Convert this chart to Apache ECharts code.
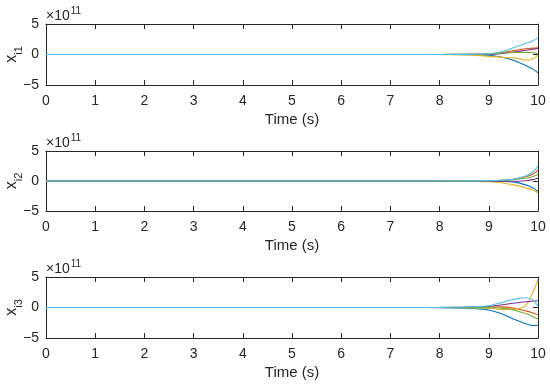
<!DOCTYPE html>
<html>
<head>
<meta charset="utf-8">
<script src="https://cdn.jsdelivr.net/npm/echarts@6/dist/echarts.min.js"></script>
<style>
html,body{margin:0;padding:0;background:#fff;}
#c{width:550px;height:386px;}
</style>
</head>
<body>
<div id="c"></div>
<script>
// time samples (s)
const time = [0, 7.5, 8, 8.5, 8.75, 9, 9.25, 9.5, 9.75, 9.9, 10];
// values in units of 1e11
const x1Blue      = [0, 0, 0.01, -0.02, -0.05, -0.12, -0.4, -0.95, -1.8, -2.4, -3.0];
const x1Red       = [0, 0, 0.01, 0.02, 0.04, 0.08, 0.3, 0.65, 0.95, 1.05, 1.1];
const x1Yellow    = [0, 0, -0.01, -0.05, -0.15, -0.3, -0.45, -0.55, -0.9, -0.7, -0.05];
const x1Purple    = [0, 0, 0, 0.01, 0.02, 0.03, 0.15, 0.4, 0.7, 0.88, 1.0];
const x1Green     = [0, 0, 0.01, 0.03, 0.05, 0.08, 0.22, 0.33, 0.35, 0.28, 0.15];
const x1LightBlue = [0, 0, 0.01, 0.02, 0.05, 0.12, 0.45, 1.1, 1.8, 2.25, 2.72];

const x2Blue      = [0, 0, 0, 0.01, 0.02, 0.0, -0.05, -0.15, -0.65, -1.15, -1.75];
const x2Red       = [0, 0, 0, 0.01, 0.02, 0.05, 0.12, 0.3, 0.7, 1.15, 1.8];
const x2Yellow    = [0, 0, -0.01, -0.02, -0.05, -0.12, -0.3, -0.65, -1.15, -1.55, -2.0];
const x2Purple    = [0, 0, 0, 0, -0.01, -0.03, -0.05, -0.05, 0.05, 0.25, 0.45];
const x2Green     = [0, 0, 0.01, 0.02, 0.03, 0.05, 0.1, 0.2, 0.45, 0.75, 1.1];
const x2LightBlue = [0, 0, 0, 0.01, 0.02, 0.05, 0.12, 0.3, 0.85, 1.55, 2.5];

const x3Blue      = [0, 0, -0.02, -0.1, -0.2, -0.4, -1.0, -1.9, -2.65, -2.95, -2.9];
const x3Red       = [0, 0, 0, 0.02, 0.05, 0.08, 0.1, -0.1, -0.55, -0.9, -1.25];
const x3Yellow    = [0, 0, -0.01, -0.05, -0.08, -0.12, -0.3, -0.3, 0.35, 2.6, 4.6];
const x3Purple    = [0, 0, 0.01, 0.05, 0.1, 0.2, 0.4, 0.7, 0.95, 1.05, 1.1];
const x3Green     = [0, 0, 0, 0.01, 0.0, -0.02, -0.1, -0.4, -1.0, -1.5, -1.9];
const x3LightBlue = [0, 0, 0.02, 0.08, 0.15, 0.3, 0.8, 1.3, 1.6, 1.2, 0.2];

const xTicks = [0,1,2,3,4,5,6,7,8,9,10];
const yTicks = [-5, 0, 5];
const panelSubs = ['i1', 'i2', 'i3'];
const xTitle = 'Time (s)';
const exponent = '11';

const panels = [
  [x1Blue, x1Red, x1Yellow, x1Purple, x1Green, x1LightBlue],
  [x2Blue, x2Red, x2Yellow, x2Purple, x2Green, x2LightBlue],
  [x3Blue, x3Red, x3Yellow, x3Purple, x3Green, x3LightBlue]
];
const colors = ['#0072BD', '#D95319', '#EDB120', '#7E2F8E', '#77AC30', '#4DBEEE'];

const FONT = '"Liberation Sans", Arial, Helvetica, sans-serif';
const AX = '#262626';
const tops = [24, 151, 277];
const heights = [61, 60, 61];

const grid = [], xAxis = [], yAxis = [], series = [], graphic = [];
panels.forEach((p, i) => {
  grid.push({left: 46, right: 12, top: tops[i], height: heights[i], containLabel: false, outerBoundsMode: 'none'});
  xAxis.push({
    type: 'value', gridIndex: i, min: xTicks[0], max: xTicks[xTicks.length-1], interval: 1,
    position: 'bottom',
    axisLine: {show: true, onZero: false, lineStyle: {color: AX, width: 1}},
    axisTick: {show: true, inside: true, length: 5, lineStyle: {color: AX}},
    axisLabel: {show: true, color: AX, fontSize: 14, fontFamily: FONT, margin: 9},
    splitLine: {show: false},
    name: xTitle, nameLocation: 'middle', nameGap: 27, nameMoveOverlap: false,
    nameTextStyle: {color: AX, fontSize: 15, fontFamily: FONT}
  });
  xAxis.push({
    type: 'value', gridIndex: i, min: 0, max: 10, interval: 1, position: 'top',
    axisLine: {show: true, onZero: false, lineStyle: {color: AX, width: 1}},
    axisTick: {show: true, inside: true, length: 5, lineStyle: {color: AX}},
    axisLabel: {show: false}, splitLine: {show: false}
  });
  yAxis.push({
    type: 'value', gridIndex: i, min: yTicks[0], max: yTicks[yTicks.length-1], interval: 5,
    position: 'left',
    axisLine: {show: true, onZero: false, lineStyle: {color: AX, width: 1}},
    axisTick: {show: true, inside: true, length: 5, lineStyle: {color: AX}},
    axisLabel: {show: true, color: AX, fontSize: 14, fontFamily: FONT, margin: 7,
      formatter: v => (v < 0 ? '\u2212' + Math.abs(v) : String(v))},
    splitLine: {show: false},
    name: '{x|x}{s|' + panelSubs[i] + '}', nameLocation: 'middle', nameGap: 26, nameRotate: 90,
    nameMoveOverlap: false,
    nameTextStyle: {color: AX, fontFamily: FONT,
      rich: {
        x: {fontSize: 16, fontFamily: FONT, color: AX, verticalAlign: 'bottom'},
        s: {fontSize: 11, fontFamily: FONT, color: AX, verticalAlign: 'bottom', padding: [0,0,-4,0]}
      }}
  });
  yAxis.push({
    type: 'value', gridIndex: i, min: -5, max: 5, interval: 5, position: 'right',
    axisLine: {show: true, onZero: false, lineStyle: {color: AX, width: 1}},
    axisTick: {show: true, inside: true, length: 5, lineStyle: {color: AX}},
    axisLabel: {show: false}, splitLine: {show: false}
  });
  p.forEach((vals, k) => {
    series.push({
      type: 'line', xAxisIndex: 2*i, yAxisIndex: 2*i,
      data: time.map((t, j) => [t, vals[j]]),
      smooth: 0.35, showSymbol: false, symbol: 'none',
      lineStyle: {color: colors[k], width: 1.1},
      itemStyle: {color: colors[k]},
      animation: false, z: 2 + k
    });
  });
  graphic.push({
    type: 'text', left: 46, top: tops[i] - 18,
    style: {
      text: '{m|\u00d710}{e|' + exponent + '}',
      fill: AX, font: '14px ' + FONT,
      rich: {
        m: {fontSize: 14, fontFamily: FONT, fill: AX, verticalAlign: 'bottom', lineHeight: 17},
        e: {fontSize: 10, fontFamily: FONT, fill: AX, verticalAlign: 'top', padding: [0,0,6,1], lineHeight: 17}
      }
    }
  });
});

const chart = echarts.init(document.getElementById('c'), null, {renderer: 'canvas'});
chart.setOption({
  animation: false,
  backgroundColor: '#fff',
  grid, xAxis, yAxis, series, graphic
});
</script>
</body>
</html>
